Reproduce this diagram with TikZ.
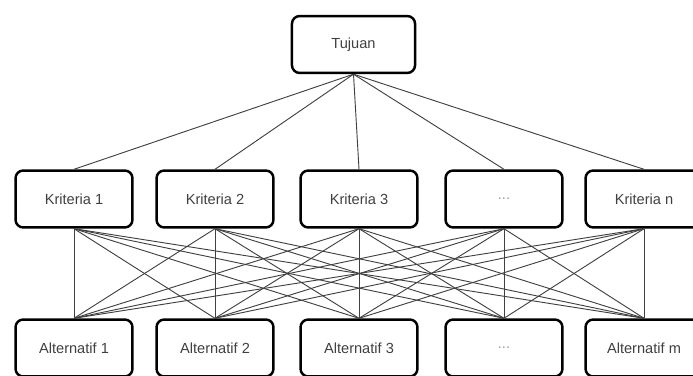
\documentclass[tikz,border=0pt]{standalone}
\usepackage{fontspec}
\setmainfont{Liberation Sans}
\usepackage{tikz}

\begin{document}
\begin{tikzpicture}[x=0.65pt,y=-0.65pt,
  box/.style={draw,line width=1.6pt,rounded corners=5pt,minimum width=76pt,minimum height=37pt,text=black!75,font=\fontsize{9.5}{11}\selectfont},
  link/.style={black!75,line width=0.6pt}]
\useasboundingbox (0,0) rectangle (693,376);
\node[box,minimum width=80pt] (goal) at (353.5,44.5) {Tujuan};
\node[box] (k1) at (74,199) {Kriteria 1};
\node[box] (k2) at (215,199) {Kriteria 2};
\node[box] (k3) at (359,199) {Kriteria 3};
\node[box,text=black!40] (k4) at (504,199) {...};
\node[box] (k5) at (644,199) {Kriteria n};
\node[box] (a1) at (74,348) {Alternatif 1};
\node[box] (a2) at (215,348) {Alternatif 2};
\node[box] (a3) at (359,348) {Alternatif 3};
\node[box,text=black!40] (a4) at (504,348) {...};
\node[box] (a5) at (644,348) {Alternatif m};
\foreach \k in {1,...,5}
  \draw[link] (goal.south) -- (k\k.north);
\foreach \k in {1,...,5}
  \foreach \a in {1,...,5}
    \draw[link] (k\k.south) -- (a\a.north);
\end{tikzpicture}
\end{document}
